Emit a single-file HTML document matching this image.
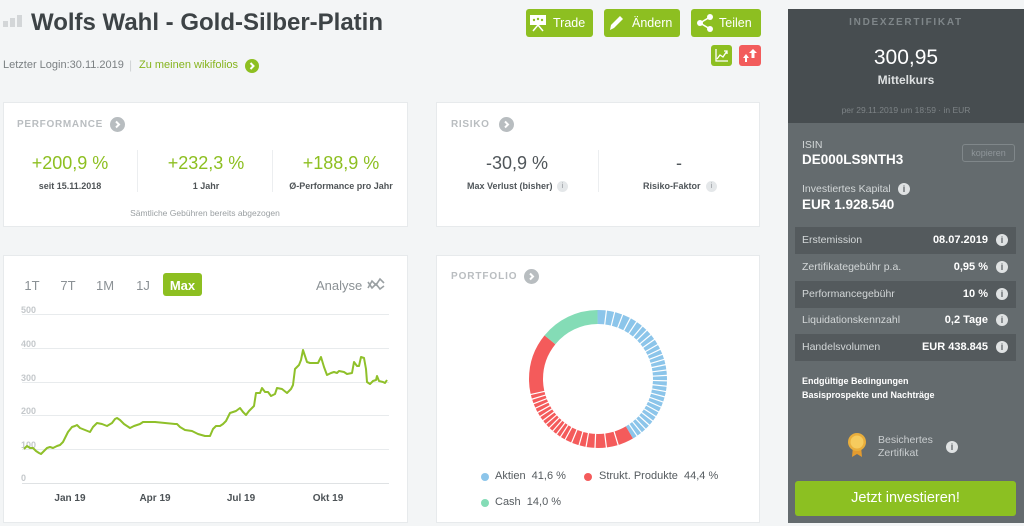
<!DOCTYPE html>
<html><head><meta charset="utf-8">
<style>
*{margin:0;padding:0;box-sizing:border-box}
body{width:1024px;height:526px;overflow:hidden;background:#f3f5f6;font-family:"Liberation Sans",Arial,sans-serif;position:relative}
.a{position:absolute;white-space:nowrap;line-height:1}
.c{text-align:center}
.card{position:absolute;background:#fff;border:1px solid #e7eaec}
.btn{position:absolute;background:#8dbf21;border-radius:3px;color:#fff}
.ic{position:absolute;width:12px;height:12px;border-radius:50%;background:#dfe2e3;color:#5d6366;font-size:9px;font-weight:bold;text-align:center;line-height:12px}
.is{position:absolute;width:11px;height:11px;border-radius:50%;background:#e4e7e9;color:#a9aeb1;font-size:7px;font-weight:bold;text-align:center;line-height:11px}
.row{position:absolute;left:795px;width:221px;height:27px}
.lbl{position:absolute;left:7px;top:8px;font-size:10.5px;color:#d3d7d8;line-height:1;white-space:nowrap}
.val{position:absolute;right:28px;top:8px;font-size:11px;font-weight:bold;color:#fff;line-height:1;white-space:nowrap}
.row .ic{right:8px;top:7px}
</style></head><body>

<!-- header -->
<svg class="a" style="left:3px;top:15px" width="20" height="12"><rect x="0" y="6" width="5" height="6" fill="#d3d6d8"/><rect x="7" y="3" width="5" height="9" fill="#d3d6d8"/><rect x="14" y="0" width="5" height="12" fill="#d3d6d8"/></svg>
<div class="a" style="left:31px;top:11px;font-size:24px;font-weight:bold;color:#3d4346">Wolfs Wahl - Gold-Silber-Platin</div>
<div class="a" style="left:3px;top:60px;font-size:11px;color:#7b8083">Letzter Login:30.11.2019</div>
<div class="a" style="left:129px;top:59px;font-size:12px;color:#cfd3d5">|</div>
<div class="a" style="left:139px;top:60px;font-size:11px;color:#86b41e">Zu meinen wikifolios</div>
<svg class="a" style="left:245px;top:59px" width="14" height="14"><circle cx="7" cy="7" r="7" fill="#8dbf21"/><polyline points="5.5,4 8.5,7 5.5,10" fill="none" stroke="#fff" stroke-width="2"/></svg>

<!-- top buttons -->
<div class="btn" style="left:526px;top:9px;width:67px;height:28px"></div>
<svg class="a" style="left:530px;top:14px" width="17" height="18"><rect x="0" y="1" width="16" height="10" fill="#fff"/><circle cx="4" cy="6" r="1.2" fill="#8dbf21"/><circle cx="8" cy="5" r="1.2" fill="#8dbf21"/><circle cx="12" cy="6" r="1.2" fill="#8dbf21"/><line x1="8" y1="11" x2="3" y2="17" stroke="#fff" stroke-width="1.5"/><line x1="8" y1="11" x2="13" y2="17" stroke="#fff" stroke-width="1.5"/></svg>
<div class="a" style="left:553px;top:17px;font-size:12.5px;color:#fff">Trade</div>
<div class="btn" style="left:604px;top:9px;width:76px;height:28px"></div>
<svg class="a" style="left:608px;top:14px" width="16" height="18"><path d="M2,16 L3,11 L12,2 L15,5 L6,14 Z" fill="#fff"/></svg>
<div class="a" style="left:632px;top:17px;font-size:12.5px;color:#fff">Ändern</div>
<div class="btn" style="left:691px;top:9px;width:70px;height:28px"></div>
<svg class="a" style="left:696px;top:13px" width="18" height="20"><line x1="4" y1="10" x2="14" y2="4" stroke="#fff" stroke-width="1.6"/><line x1="4" y1="10" x2="14" y2="16" stroke="#fff" stroke-width="1.6"/><circle cx="4" cy="10" r="3" fill="#fff"/><circle cx="14" cy="4" r="3" fill="#fff"/><circle cx="14" cy="16" r="3" fill="#fff"/></svg>
<div class="a" style="left:719px;top:17px;font-size:12.5px;color:#fff">Teilen</div>
<div class="btn" style="left:711px;top:45px;width:21px;height:21px"></div>
<svg class="a" style="left:714px;top:48px" width="15" height="15"><polyline points="2,1 2,13 14,13" fill="none" stroke="#fff" stroke-width="1.3"/><polyline points="3,11 6,7 9,9 13,3" fill="none" stroke="#fff" stroke-width="1.3"/><polyline points="10,3 13,3 13,6" fill="none" stroke="#fff" stroke-width="1.3"/></svg>
<div class="btn" style="left:739px;top:45px;width:22px;height:21px;background:#f25c5c"></div>
<svg class="a" style="left:742px;top:48px" width="16" height="15"><path d="M4,6 L7,10 L5,10 L5,14 L3,14 L3,10 L1,10 Z" fill="#fff"/><path d="M11,1 L15,5 L12.5,5 L12.5,10 L9.5,10 L9.5,5 L7,5 Z" fill="#fff"/></svg>

<!-- performance card -->
<div class="card" style="left:3px;top:102px;width:405px;height:125px"></div>
<div class="a" style="left:17px;top:120px;font-size:10px;font-weight:bold;color:#b9bdc0;letter-spacing:0.7px">PERFORMANCE</div>
<svg class="a" style="left:110px;top:117px" width="15" height="15"><circle cx="7.5" cy="7.5" r="7.5" fill="#b8bdc0"/><polyline points="6,4.5 9,7.5 6,10.5" fill="none" stroke="#fff" stroke-width="2"/></svg>
<div class="a c" style="left:0;width:140px;top:154px;font-size:18px;color:#8dbf21">+200,9 %</div>
<div class="a c" style="left:0;width:140px;top:182px;font-size:9px;font-weight:bold;color:#4f5457">seit 15.11.2018</div>
<div class="a" style="left:137px;top:150px;width:1px;height:42px;background:#eceef0"></div>
<div class="a c" style="left:136px;width:140px;top:154px;font-size:18px;color:#8dbf21">+232,3 %</div>
<div class="a c" style="left:136px;width:140px;top:182px;font-size:9px;font-weight:bold;color:#4f5457">1 Jahr</div>
<div class="a" style="left:272px;top:150px;width:1px;height:42px;background:#eceef0"></div>
<div class="a c" style="left:271px;width:140px;top:154px;font-size:18px;color:#8dbf21">+188,9 %</div>
<div class="a c" style="left:271px;width:140px;top:182px;font-size:9px;font-weight:bold;color:#4f5457">Ø-Performance pro Jahr</div>
<div class="a c" style="left:105px;width:200px;top:209px;font-size:8.5px;color:#9a9fa2">Sämtliche Gebühren bereits abgezogen</div>

<!-- risiko card -->
<div class="card" style="left:436px;top:102px;width:324px;height:125px"></div>
<div class="a" style="left:451px;top:120px;font-size:10px;font-weight:bold;color:#b9bdc0;letter-spacing:0.7px">RISIKO</div>
<svg class="a" style="left:499px;top:117px" width="15" height="15"><circle cx="7.5" cy="7.5" r="7.5" fill="#b8bdc0"/><polyline points="6,4.5 9,7.5 6,10.5" fill="none" stroke="#fff" stroke-width="2"/></svg>
<div class="a c" style="left:447px;width:140px;top:154px;font-size:18px;color:#50565a">-30,9 %</div>
<div class="a" style="left:467px;top:182px;font-size:9px;font-weight:bold;color:#50565a">Max Verlust (bisher)</div>
<div class="is" style="left:557px;top:181px">i</div>
<div class="a" style="left:598px;top:150px;width:1px;height:42px;background:#eceef0"></div>
<div class="a c" style="left:609px;width:140px;top:154px;font-size:18px;color:#50565a">-</div>
<div class="a" style="left:643px;top:182px;font-size:9px;font-weight:bold;color:#50565a">Risiko-Faktor</div>
<div class="is" style="left:706px;top:181px">i</div>

<!-- chart card -->
<div class="card" style="left:3px;top:255px;width:405px;height:268px"></div>
<div class="a c" style="left:17px;width:30px;top:279px;font-size:13px;color:#8b9195">1T</div>
<div class="a c" style="left:53px;width:30px;top:279px;font-size:13px;color:#8b9195">7T</div>
<div class="a c" style="left:90px;width:30px;top:279px;font-size:13px;color:#8b9195">1M</div>
<div class="a c" style="left:128px;width:30px;top:279px;font-size:13px;color:#8b9195">1J</div>
<div class="btn" style="left:163px;top:273px;width:39px;height:23px"></div>
<div class="a c" style="left:163px;width:39px;top:279px;font-size:13px;font-weight:bold;color:#fff">Max</div>
<div class="a" style="left:316px;top:279px;font-size:13px;color:#8b9195">Analyse</div>
<svg class="a" style="left:367px;top:277px" width="18" height="14"><polyline points="1,11 5,4 9,8 13,2 17,6" fill="none" stroke="#9aa0a3" stroke-width="1.6"/><polyline points="1,5 5,11 9,7 13,12 17,9" fill="none" stroke="#9aa0a3" stroke-width="1.6"/></svg>

<svg class="a" style="left:0;top:0" width="420" height="526">
<g stroke="#e8ebed" stroke-width="1">
<line x1="22" y1="314.5" x2="389" y2="314.5"/>
<line x1="22" y1="348.5" x2="389" y2="348.5"/>
<line x1="22" y1="382.5" x2="389" y2="382.5"/>
<line x1="22" y1="415.5" x2="389" y2="415.5"/>
<line x1="22" y1="449.5" x2="389" y2="449.5"/>
</g>
<line x1="22" y1="483.5" x2="389" y2="483.5" stroke="#dfe2e4"/>
<g font-family="Liberation Sans, Arial, sans-serif" font-size="9" font-weight="bold" fill="#c4c8cb">
<text x="21" y="313">500</text><text x="21" y="347">400</text><text x="21" y="381">300</text><text x="21" y="414">200</text><text x="21" y="448">100</text><text x="21" y="481">0</text>
</g>
<polyline fill="none" stroke="#8fc02a" stroke-width="2" stroke-linejoin="round" points="24,449 27,446 30,448 33,448 36,451 39,453 41,454 44,451 47,448 50,447 53,448 57,446 60,445 63,442 65,438 68,432 72,427 75,426 77,425 80,428 85,430 90,432 93,427 97,423 102,424 107,426 112,423 115,419 117,418 120,420 124,424 130,428 134,426 137,425 140,424 143,422 155,422 165,423 175,424 177,424 180,427 185,430 192,431 198,434 205,436 208,436 210,436 213,429 216,426 220,426 223,424 226,421 230,413 236,411 240,408 243,412 246,415 249,411 254,406 256,393 260,393 262,388 265,392 268,392 271,396 275,394 277,388 282,389 287,393 291,389 293,385 295,369 299,365 301,360 303,350 307,362 310,363 318,363 321,357 324,367 327,375 331,373 334,372 337,373 339,371 344,372 347,374 352,373 354,362 357,366 359,366 361,357 364,358 366,369 367,382 370,384 373,381 376,380 377,376 379,381 383,382 385,383 387,380"/>
<g font-family="Liberation Sans, Arial, sans-serif" font-size="10" font-weight="bold" fill="#4c5256" text-anchor="middle">
<text x="70" y="501">Jan 19</text><text x="155" y="501">Apr 19</text><text x="241" y="501">Jul 19</text><text x="328" y="501">Okt 19</text>
</g>
</svg>

<!-- portfolio card -->
<div class="card" style="left:436px;top:255px;width:324px;height:268px"></div>
<div class="a" style="left:451px;top:272px;font-size:10px;font-weight:bold;color:#b9bdc0;letter-spacing:0.9px">PORTFOLIO</div>
<svg class="a" style="left:524px;top:269px" width="15" height="15"><circle cx="7.5" cy="7.5" r="7.5" fill="#b8bdc0"/><polyline points="6,4.5 9,7.5 6,10.5" fill="none" stroke="#fff" stroke-width="2"/></svg>
<svg class="a" style="left:520px;top:301px" width="156" height="156">
<g transform="translate(78,78)">
<g transform="rotate(-90)" fill="none" stroke-width="14">
<circle r="62" pathLength="100" stroke="#8cc5ea" stroke-dasharray="41.6 58.4" stroke-dashoffset="0"/>
<circle r="62" pathLength="100" stroke="#f45b5b" stroke-dasharray="44.4 55.6" stroke-dashoffset="-41.6"/>
<circle r="62" pathLength="100" stroke="#84dcb6" stroke-dasharray="14 86" stroke-dashoffset="-86"/>
</g>
<g stroke="#fff" stroke-width="1.2">
<line x1="0" y1="-54" x2="0" y2="-71" transform="rotate(7)"/>
<line x1="0" y1="-54" x2="0" y2="-71" transform="rotate(14)"/>
<line x1="0" y1="-54" x2="0" y2="-71" transform="rotate(21)"/>
<line x1="0" y1="-54" x2="0" y2="-71" transform="rotate(28)"/>
<line x1="0" y1="-54" x2="0" y2="-71" transform="rotate(34)"/>
<line x1="0" y1="-54" x2="0" y2="-71" transform="rotate(40)"/>
<line x1="0" y1="-54" x2="0" y2="-71" transform="rotate(45)"/>
<line x1="0" y1="-54" x2="0" y2="-71" transform="rotate(50)"/>
<line x1="0" y1="-54" x2="0" y2="-71" transform="rotate(55)"/>
<line x1="0" y1="-54" x2="0" y2="-71" transform="rotate(60)"/>
<line x1="0" y1="-54" x2="0" y2="-71" transform="rotate(64.5)"/>
<line x1="0" y1="-54" x2="0" y2="-71" transform="rotate(69)"/>
<line x1="0" y1="-54" x2="0" y2="-71" transform="rotate(73.5)"/>
<line x1="0" y1="-54" x2="0" y2="-71" transform="rotate(78)"/>
<line x1="0" y1="-54" x2="0" y2="-71" transform="rotate(82.5)"/>
<line x1="0" y1="-54" x2="0" y2="-71" transform="rotate(87)"/>
<line x1="0" y1="-54" x2="0" y2="-71" transform="rotate(91.5)"/>
<line x1="0" y1="-54" x2="0" y2="-71" transform="rotate(96)"/>
<line x1="0" y1="-54" x2="0" y2="-71" transform="rotate(100.5)"/>
<line x1="0" y1="-54" x2="0" y2="-71" transform="rotate(105)"/>
<line x1="0" y1="-54" x2="0" y2="-71" transform="rotate(109.5)"/>
<line x1="0" y1="-54" x2="0" y2="-71" transform="rotate(114)"/>
<line x1="0" y1="-54" x2="0" y2="-71" transform="rotate(118.5)"/>
<line x1="0" y1="-54" x2="0" y2="-71" transform="rotate(123)"/>
<line x1="0" y1="-54" x2="0" y2="-71" transform="rotate(127.5)"/>
<line x1="0" y1="-54" x2="0" y2="-71" transform="rotate(132)"/>
<line x1="0" y1="-54" x2="0" y2="-71" transform="rotate(136.5)"/>
<line x1="0" y1="-54" x2="0" y2="-71" transform="rotate(141)"/>
<line x1="0" y1="-54" x2="0" y2="-71" transform="rotate(145.5)"/>
<line x1="0" y1="-54" x2="0" y2="-71" transform="rotate(163)"/>
<line x1="0" y1="-54" x2="0" y2="-71" transform="rotate(173)"/>
<line x1="0" y1="-54" x2="0" y2="-71" transform="rotate(182.5)"/>
<line x1="0" y1="-54" x2="0" y2="-71" transform="rotate(190)"/>
<line x1="0" y1="-54" x2="0" y2="-71" transform="rotate(196)"/>
<line x1="0" y1="-54" x2="0" y2="-71" transform="rotate(202.5)"/>
<line x1="0" y1="-54" x2="0" y2="-71" transform="rotate(208.5)"/>
<line x1="0" y1="-54" x2="0" y2="-71" transform="rotate(213)"/>
<line x1="0" y1="-54" x2="0" y2="-71" transform="rotate(217)"/>
<line x1="0" y1="-54" x2="0" y2="-71" transform="rotate(221)"/>
<line x1="0" y1="-54" x2="0" y2="-71" transform="rotate(225)"/>
<line x1="0" y1="-54" x2="0" y2="-71" transform="rotate(229)"/>
<line x1="0" y1="-54" x2="0" y2="-71" transform="rotate(233)"/>
<line x1="0" y1="-54" x2="0" y2="-71" transform="rotate(237)"/>
<line x1="0" y1="-54" x2="0" y2="-71" transform="rotate(241)"/>
<line x1="0" y1="-54" x2="0" y2="-71" transform="rotate(245)"/>
<line x1="0" y1="-54" x2="0" y2="-71" transform="rotate(249)"/>
<line x1="0" y1="-54" x2="0" y2="-71" transform="rotate(253)"/>
<line x1="0" y1="-54" x2="0" y2="-71" transform="rotate(257)"/>
</g>
</g>
</svg>
<svg class="a" style="left:480px;top:472px" width="10" height="36"><circle cx="5" cy="5" r="4" fill="#8cc5ea"/><circle cx="5" cy="31" r="4" fill="#84dcb6"/></svg>
<svg class="a" style="left:583px;top:472px" width="10" height="10"><circle cx="5" cy="5" r="4" fill="#f45b5b"/></svg>
<div class="a" style="left:495px;top:471px;font-size:11px;color:#555b5f">Aktien&nbsp;&nbsp;41,6 %</div>
<div class="a" style="left:599px;top:471px;font-size:11px;color:#555b5f">Strukt. Produkte&nbsp;&nbsp;44,4 %</div>
<div class="a" style="left:495px;top:497px;font-size:11px;color:#555b5f">Cash&nbsp;&nbsp;14,0 %</div>

<!-- right panel -->
<div class="a" style="left:788px;top:9px;width:236px;height:514px;background:#646b6e"></div>
<div class="a" style="left:788px;top:9px;width:236px;height:114px;background:#474d50"></div>
<div class="a c" style="left:788px;width:236px;top:18px;font-size:10px;font-weight:bold;color:#7f8689;letter-spacing:1.7px">INDEXZERTIFIKAT</div>
<div class="a c" style="left:788px;width:236px;top:47px;font-size:21px;color:#fff">300,95</div>
<div class="a c" style="left:788px;width:236px;top:74px;font-size:12px;font-weight:bold;color:#dde0e1">Mittelkurs</div>
<div class="a c" style="left:788px;width:236px;top:106px;font-size:8.5px;color:#7d8386">per 29.11.2019 um 18:59 · in EUR</div>

<div class="a" style="left:802px;top:140px;font-size:10.5px;color:#d3d7d8">ISIN</div>
<div class="a" style="left:802px;top:153px;font-size:13.5px;font-weight:bold;color:#fff">DE000LS9NTH3</div>
<div class="a" style="left:962px;top:144px;width:53px;height:18px;border:1px solid #80878a;border-radius:3px"></div>
<div class="a c" style="left:962px;width:53px;top:149px;font-size:9px;color:#8f969a">kopieren</div>
<div class="a" style="left:802px;top:184px;font-size:10.5px;color:#d3d7d8">Investiertes Kapital</div>
<div class="ic" style="left:898px;top:183px">i</div>
<div class="a" style="left:802px;top:198px;font-size:13.5px;font-weight:bold;color:#fff">EUR 1.928.540</div>

<div class="row" style="top:227px;background:#545a5d"><div class="lbl">Erstemission</div><div class="val">08.07.2019</div><div class="ic">i</div></div>
<div class="row" style="top:254px"><div class="lbl">Zertifikategebühr p.a.</div><div class="val">0,95 %</div><div class="ic">i</div></div>
<div class="row" style="top:281px;background:#545a5d"><div class="lbl">Performancegebühr</div><div class="val">10 %</div><div class="ic">i</div></div>
<div class="row" style="top:307px"><div class="lbl">Liquidationskennzahl</div><div class="val">0,2 Tage</div><div class="ic">i</div></div>
<div class="row" style="top:334px;background:#545a5d"><div class="lbl">Handelsvolumen</div><div class="val">EUR 438.845</div><div class="ic">i</div></div>

<div class="a" style="left:802px;top:377px;font-size:9px;font-weight:bold;color:#fff">Endgültige Bedingungen</div>
<div class="a" style="left:802px;top:391px;font-size:9px;font-weight:bold;color:#fff">Basisprospekte und Nachträge</div>

<svg class="a" style="left:848px;top:432px" width="18" height="26"><path d="M5,14 L4,25 L9,22 L14,25 L13,14 Z" fill="#e39b2f"/><circle cx="9" cy="10" r="9" fill="#e9ae3c"/><circle cx="9" cy="10" r="6.5" fill="#f6cb5e"/></svg>
<div class="a" style="left:878px;top:435px;font-size:10.5px;color:#c9cdcf">Besichertes</div>
<div class="a" style="left:878px;top:448px;font-size:10.5px;color:#c9cdcf">Zertifikat</div>
<div class="ic" style="left:946px;top:441px">i</div>

<div class="btn" style="left:795px;top:481px;width:221px;height:35px;background:#8cc022"></div>
<div class="a c" style="left:795px;width:221px;top:491px;font-size:14.5px;color:#fff">Jetzt investieren!</div>

</body></html>
